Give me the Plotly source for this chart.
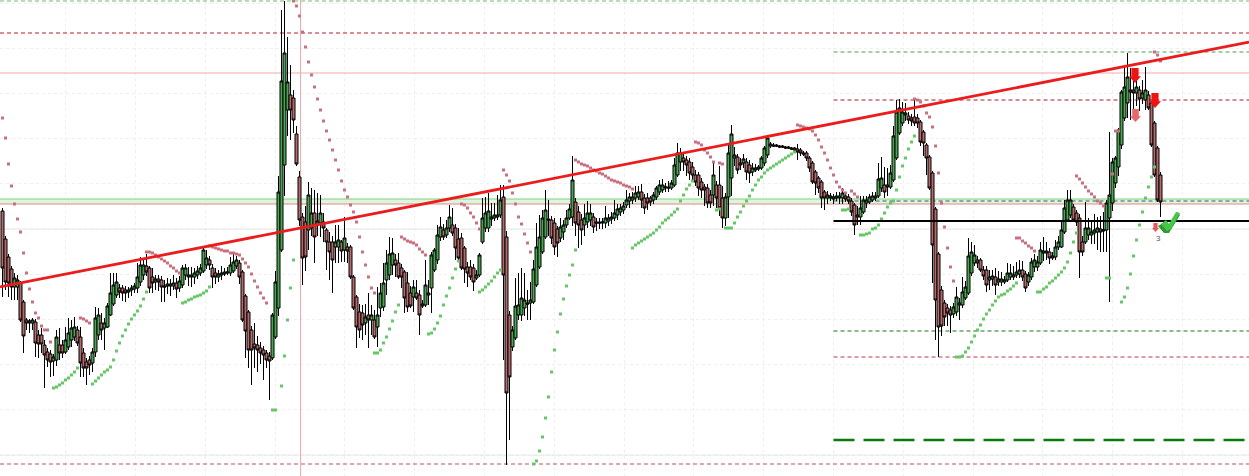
import plotly.graph_objects as go

opens = [265,237,219,207,189,189,193,174,156,155,
153,154,141,141,131,124,122,115,116,131,
131,124,129,136,139,146,139,123,114,116,
113,124,141,153,148,149,161,172,181,188,
188,186,184,186,187,188,194,201,210,208,
199,194,197,196,190,190,192,190,193,188,
191,201,199,199,199,201,203,205,211,216,
208,203,199,201,202,203,203,205,210,213,
204,180,164,146,132,131,128,126,123,120,
118,139,168,226,311,366,381,378,342,299,
259,254,246,248,263,251,253,254,246,234,
234,229,229,234,226,229,229,199,179,164,
163,153,161,156,156,149,168,169,196,201,
211,216,213,208,204,193,183,179,183,181,
170,171,181,188,206,216,239,246,241,248,
251,248,237,238,228,209,209,208,198,201,
234,248,248,257,258,259,261,279,239,161,
129,138,161,161,168,173,173,174,191,209,
224,239,257,256,253,247,238,244,251,258,
259,274,264,256,251,254,256,259,254,254,
253,253,255,257,258,261,264,266,271,275,
276,278,279,284,278,278,278,276,279,284,
286,288,289,288,291,301,314,318,316,314,
309,301,301,294,289,288,281,281,291,291,
278,258,279,298,318,319,313,313,314,311,
304,306,307,308,313,321,332,331,331,330,
330,329,329,328,328,327,326,323,323,318,
313,304,298,294,284,278,278,279,278,280,
278,280,279,275,271,259,259,264,273,274,
276,278,280,288,291,291,289,296,318,343,
353,361,360,358,359,358,354,344,331,319,
303,267,222,186,173,168,166,162,164,171,
171,178,183,203,213,216,216,206,206,196,
197,199,194,194,196,196,199,199,201,202,
206,202,194,199,209,209,213,223,223,224,
220,219,229,229,244,256,261,269,263,258,
234,234,241,241,243,244,247,245,246,258,
273,293,309,331,358,373,386,386,383,386,
378,376,381,373,353,328,301]

closes = [208,194,193,189,198,196,156,140,153,153,
156,133,132,132,121,116,114,119,139,123,
123,136,143,148,149,133,113,108,108,111,
124,158,161,146,153,170,183,191,194,184,
183,183,186,188,190,199,211,211,204,188,
193,197,194,189,189,192,190,193,187,195,
208,208,201,201,203,205,208,226,218,211,
199,199,202,203,204,204,211,214,216,199,
156,145,126,126,128,126,123,121,116,115,
161,194,284,395,423,394,366,356,312,256,
218,219,281,263,239,255,263,248,234,224,
216,234,236,225,238,225,199,168,149,146,
151,159,156,161,139,161,183,193,213,222,
223,211,199,199,178,169,170,189,178,161,
172,191,183,221,226,241,249,239,248,259,
243,228,218,208,207,203,199,194,201,221,
258,263,265,259,261,261,276,201,83,99,
146,170,171,178,176,172,176,207,229,239,
258,266,256,238,229,233,249,251,258,267,
296,253,251,246,258,263,263,249,253,253,
254,258,258,259,263,267,268,270,276,279,
279,283,284,276,268,273,274,281,288,291,
291,289,288,293,311,323,323,314,311,303,
301,294,288,286,286,273,273,301,278,268,
258,279,323,342,321,306,311,317,304,303,
308,308,309,318,328,338,330,330,330,329,
329,328,328,327,326,324,323,322,318,308,
294,293,288,278,278,281,280,277,280,278,
283,277,275,264,251,261,268,276,276,279,
280,280,297,298,284,289,303,340,364,368,
364,363,356,355,353,353,334,333,318,288,
231,176,149,150,159,163,161,169,179,173,
184,189,220,224,221,213,206,200,191,199,
200,191,197,197,194,203,203,201,204,206,
199,188,201,214,216,214,226,225,225,218,
218,229,234,246,268,276,276,256,254,224,
224,248,248,244,246,248,244,246,273,281,
314,318,346,384,389,399,384,383,389,377,
383,386,368,331,301,276,274]

highs = [268,240,222,210,203,201,195,176,158,157,
158,157,146,148,136,128,126,122,146,148,
136,149,158,156,159,150,149,128,118,120,
128,169,168,163,158,173,203,203,203,192,
191,190,189,191,193,213,219,218,222,210,
208,201,201,200,196,198,197,201,198,200,
211,212,209,209,208,210,212,228,226,220,
212,208,206,210,208,209,219,223,220,216,
206,182,166,150,153,140,134,130,126,124,
163,205,300,466,475,439,411,386,350,305,
263,270,294,288,286,283,281,263,248,244,
240,251,251,236,259,233,231,201,181,172,
171,172,183,171,166,189,193,213,226,239,
238,222,223,212,206,204,190,196,196,186,
176,216,196,224,228,251,259,252,256,271,
268,252,248,243,230,214,216,212,206,223,
278,279,283,273,273,281,291,291,245,165,
150,198,203,208,203,186,194,216,253,261,
266,286,276,260,258,250,258,256,266,272,
320,278,270,262,272,275,272,263,258,258,
258,270,262,264,276,272,272,274,286,283,
284,290,290,292,282,283,280,284,290,296,
297,293,295,296,318,333,328,322,320,318,
314,306,304,298,292,292,286,313,295,310,
290,283,332,351,329,322,318,322,318,316,
313,312,311,320,330,340,334,333,332,331,
331,330,330,329,329,332,328,325,325,320,
315,306,300,296,286,285,283,282,284,284,
288,284,282,278,273,270,280,280,280,282,
284,284,313,319,309,308,311,350,376,377,
374,373,364,362,376,362,356,346,333,321,
305,269,224,190,176,172,170,173,189,178,
199,195,238,234,231,220,218,210,210,206,
206,208,205,204,200,213,212,210,214,216,
215,205,204,218,222,220,234,239,234,228,
224,236,240,256,276,286,286,272,266,262,
240,274,258,256,262,259,260,264,276,344,
318,320,348,386,408,423,408,398,396,390,
396,409,385,375,355,330,304]

lows = [179,186,179,176,176,176,154,123,146,143,
146,119,118,123,88,109,99,100,110,116,
118,122,126,129,135,130,99,99,91,101,
104,119,136,136,126,148,160,170,178,178,
175,174,178,180,183,183,190,196,200,183,
183,186,185,174,174,182,180,186,178,184,
188,196,190,189,192,197,200,203,207,206,
188,192,194,196,200,201,200,203,207,192,
154,118,108,91,108,104,112,96,108,76,
116,137,160,224,280,340,336,343,310,250,
191,205,226,240,213,240,239,234,206,196,
183,213,213,214,214,213,197,166,128,138,
136,141,128,141,137,129,159,165,181,196,
201,199,197,188,163,164,168,164,176,141,
168,169,171,163,204,212,235,236,238,244,
240,216,216,206,193,189,196,185,196,199,
232,244,244,250,255,256,258,116,11,36,
125,136,156,155,160,156,156,172,189,207,
222,237,240,232,221,219,234,236,248,256,
250,240,228,231,240,248,250,243,245,247,
247,248,250,252,255,256,260,262,268,268,
272,274,276,268,262,266,270,272,276,281,
283,284,284,286,289,299,305,305,300,296,
296,290,280,278,270,268,268,270,268,260,
248,250,258,280,310,302,306,308,296,293,
300,304,305,306,310,318,328,329,329,328,
328,327,327,326,325,316,320,320,315,304,
292,281,283,268,266,272,275,272,275,272,
272,274,272,260,241,251,251,262,268,272,
274,275,278,284,278,280,287,294,316,341,
350,355,352,350,350,348,330,320,301,286,
193,136,119,140,150,150,143,158,160,156,
168,176,181,200,210,208,204,196,184,186,
190,181,190,190,192,194,196,196,198,198,
195,184,190,196,204,205,211,215,216,212,
216,216,226,228,242,254,258,254,250,198,
220,232,236,232,232,226,224,224,224,174,
265,288,300,327,355,358,356,360,370,365,
372,366,366,329,299,274,259]

# Parabolic SAR dots: (first candle index, values)
sar_red = [
 (0,[358,338,312,290,272,257,244,223,203,187,174,163,158,150,146,146,134]),
 (26,[158,157,155,153]),
 (48,[224,224,223,221,219,217,215,213,210,208,205,203]),
 (69,[230,229,228,227,226,225,225,223,223,222,221,217,213,209,202,195,189,183,178,173]),
 (97,[475,470,460,444,429,414,401,389,377,366,355,345,336,326,316,306,295,286,279,271,264,254,239,224,211,199,188,183]),
 (133,[239,237,235,234,233,231,227,224,221]),
 (153,[272,271,268,263,259,253,247]),
 (167,[306,301,295,283,272,259,252,242,233,224]),
 (191,[316,314,312,311,310,308,306,305,303,302,300,298,296,295,294,293,291,290,289,287]),
 (231,[334,333,331,326,323,319,314]),
 (239,[313,312]),
 (265,[351,350,349,348,347,345,341,336,329,323,316,308,301,294,289,286,283]),
 (283,[285,282,279]),
 (304,[377,376,374,370,363,359,349,330,303,273,249,228,209,195]),
 (338,[238,238,235,233,230,228,225]),
 (358,[300,297,293,289,285,282,279,275,273,270]),
 (370,[302,345,345]),
 (384,[424,421,415]),
]
sar_green = [
 (17,[88,89,91,93,96,98,101,104,108]),
 (30,[92,95,98,101,104,106,109,116,125,133,140,146,152,157,161,165,170,177,184]),
 (60,[173,174,176,177,179,180,181,183,185,189]),
 (90,[66,66]),
 (93,[90,120,156,188,216]),
 (124,[123,123,126,133,139,147,155,164,171]),
 (142,[142,143,147,153,160,171,180,188,198,207,215]),
 (159,[184,186,189,192,195,199,203,206]),
 (177,[12,15,25,39,58,79,104,126,144,162,177,190,201,211,226]),
 (210,[228,231,233,235,237,239,241,243,246,249,253,256,258,261,264,267,275,281,287,291,295]),
 (238,[266,267]),
 (241,[248,248,248,253,259,264,270,275,280,286,291,296,299,303,306,308,310,312,314,316,318,320,322,324]),
 (280,[266,266,267]),
 (286,[241,241,242,243,247,248,251,257,263,269,273,275,286,299,310,318,327,334,340]),
 (318,[119,119,120,124,128,134,140,146,151,157,162,166,171,175,179,181,182,185,187,190,193]),
 (345,[184,184,187,189,193,195,198,201,204,208,214,223,234,243]),
 (368,[198,198]),
 (373,[174,179,188,202,220,236,251,264,278,289,299,309]),
]

DOT = "4px,3px"
full_levels = [(475,"#6fbf6f",1,DOT),(443,"#b81c2c",1,DOT),(403,"#f2a8ae",1,"solid"),
               (277,"#7fd07f",1,"solid"),(272,"#e08a84",1,"solid"),(247,"#e6e6e6",1,"solid"),
               (21,"#e6e6e6",1,"solid"),(12,"#c0506a",1,DOT)]
part_levels = [(424,"#4f9f4f",1,DOT),(376,"#a81c2c",1,DOT),(275,"#2f5f6f",1,DOT),
               (145,"#1f701f",1,DOT),(119,"#b83a4c",1,DOT),(36,"#0a7a0a",2.5,"21px,9px")]
support_level = 255
trend_start, trend_end = 189, 434

OFFSET = 2.5
IDX0 = -OFFSET / 3
IDX1 = (1249 - OFFSET) / 3
LEFT_PARTIAL = 277

def to_idx(px):
    return (px - OFFSET) / 3

shapes = []
shapes.append(dict(type="rect", xref="x", yref="y", x0=IDX0, x1=IDX1, y0=272, y1=277,
                   fillcolor="#dff4df", line_width=0, layer="between"))
for v, col, w, d in full_levels:
    shapes.append(dict(type="line", xref="x", yref="y", x0=IDX0, x1=IDX1, y0=v, y1=v,
                       line=dict(color=col, width=w, dash=d), layer="between"))
for v, col, w, d in part_levels:
    x1 = to_idx(1245) if w > 2 else IDX1
    shapes.append(dict(type="line", xref="x", yref="y", x0=LEFT_PARTIAL, x1=x1, y0=v, y1=v,
                       line=dict(color=col, width=w, dash=d), layer="between"))
shapes.append(dict(type="line", xref="x", yref="y", x0=to_idx(300.5), x1=to_idx(300.5), y0=0, y1=476,
                   line=dict(color="#f2a8ae", width=1), layer="between"))
shapes.append(dict(type="line", xref="x", yref="y", x0=LEFT_PARTIAL, x1=IDX1, y0=support_level, y1=support_level,
                   line=dict(color="#000000", width=2), layer="above"))
shapes.append(dict(type="line", xref="x", yref="y", x0=IDX0, x1=IDX1, y0=trend_start, y1=trend_end,
                   line=dict(color="#ea1c1c", width=2.8), layer="above"))

def poly(points, color):
    path = "M " + " L ".join(f"{to_idx(x):.3f},{476 - y:.2f}" for x, y in points) + " Z"
    return dict(type="path", xref="x", yref="y", path=path, fillcolor=color,
                line_width=0, layer="above")

def arrow(cx, top, bottom, w, color):
    mid = top + (bottom - top) * 0.55
    return poly([(cx - w * .3, top), (cx + w * .3, top), (cx + w * .3, mid), (cx + w * .5, mid),
                 (cx, bottom), (cx - w * .5, mid), (cx - w * .3, mid)], color)

shapes.append(arrow(1135, 68, 83, 12, "#ee1414"))
shapes.append(arrow(1155, 93, 108, 12, "#ee1414"))
shapes.append(arrow(1135.5, 109, 122, 11, "#e8686c"))
shapes.append(arrow(1155.5, 223, 232, 7, "#e8585c"))
shapes.append(poly([(1158, 226), (1165, 222), (1168, 226), (1177, 212), (1180, 215), (1169, 233), (1164, 233)], "#2f9a2f"))
shapes.append(poly([(1161, 224), (1166, 220), (1169, 224), (1176, 212), (1180, 213), (1171, 229), (1167, 231)], "#45c845"))

fig = go.Figure()
fig.add_trace(go.Candlestick(
    x=list(range(len(opens))), open=opens, high=highs, low=lows, close=closes,
    increasing=dict(line=dict(color="#000000", width=1), fillcolor="#4aa552"),
    decreasing=dict(line=dict(color="#000000", width=1), fillcolor="#b56a6c"),
    whiskerwidth=0, hoverinfo="skip", showlegend=False))

def sar_trace(segs, color):
    xs, ys = [], []
    for start, vals in segs:
        xs += list(range(start, start + len(vals)))
        ys += vals
    return go.Scatter(x=xs, y=ys, mode="markers", showlegend=False, hoverinfo="skip",
                      marker=dict(symbol="square", size=3, color=color, line_width=0))

fig.add_trace(sar_trace(sar_red, "#c8707e"))
fig.add_trace(sar_trace(sar_green, "#66c766"))

grid = dict(showgrid=True, gridcolor="#efefef", griddash="dot", gridwidth=1,
            showticklabels=False, zeroline=False, showline=False, ticks="")
fig.update_layout(
    width=1249, height=476, margin=dict(l=0, r=0, t=0, b=0),
    paper_bgcolor="#ffffff", plot_bgcolor="#ffffff", showlegend=False, boxgap=0, boxgroupgap=0,
    xaxis=dict(range=[IDX0, IDX1], tick0=LEFT_PARTIAL, dtick=23.27, rangeslider=dict(visible=False), **grid),
    yaxis=dict(range=[0, 476], tick0=21, dtick=45.2, **grid),
    shapes=shapes,
    annotations=[dict(x=to_idx(1158), y=476 - 238, xref="x", yref="y", text="3", showarrow=False,
                      font=dict(family="Liberation Sans", size=8, color="#555555"))],
)
fig.write_html("out.html", config={"displayModeBar": False},
               post_script="document.body.style.margin='0';")
